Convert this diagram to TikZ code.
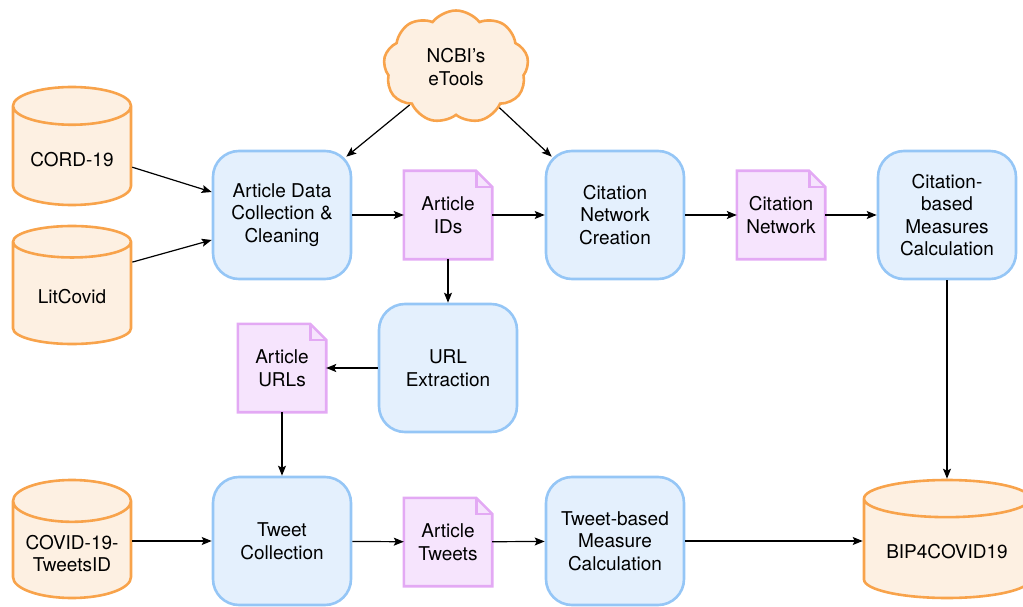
\documentclass[tikz,border=0pt]{standalone}
\usepackage{fontspec}
\setmainfont{TeX Gyre Heros}
\usetikzlibrary{shapes.geometric,shapes.symbols,arrows.meta,calc,backgrounds}
\definecolor{procfill}{HTML}{E4F0FD}
\definecolor{procline}{HTML}{95C6F6}
\definecolor{datafill}{HTML}{FDF0E2}
\definecolor{dataline}{HTML}{F8A34B}
\definecolor{docfill}{HTML}{F6E4FD}
\definecolor{docline}{HTML}{E3A9F4}
\tikzset{
  process/.style={rectangle, rounded corners=26pt, draw=procline, fill=procfill,
    line width=2.6pt, minimum width=138pt, minimum height=128pt, align=center},
  store/.style={cylinder, shape border rotate=90, aspect=0.42, anchor=shape center,
    draw=dataline, fill=datafill, line width=2.6pt, minimum width=118pt,
    minimum height=118pt, align=center},
  doc/.style={rectangle, minimum width=88pt, minimum height=88pt, align=center},
  docshape/.style={draw=docline, fill=docfill, line width=2.6pt},
  flow/.style={-{Stealth[length=10pt,width=8pt,inset=2pt]}, line width=1.2pt},
}
\begin{document}
\begin{tikzpicture}[x=1pt,y=-1pt,font=\fontsize{19}{22.5}\selectfont]
      \useasboundingbox (0,0) rectangle (1023,607);
      \draw
        (456,67) node[cloud, cloud puffs=9, cloud puff arc=105, cloud ignores aspect,
          draw=dataline, fill=datafill, line width=2.6pt, minimum width=145pt,
          minimum height=113pt, align=center] (ncbi){NCBI’s\\eTools}
        (72,146) node[store] (cord){CORD-19}
        (72,285) node[store] (litcovid){LitCovid}
        (72,539) node[store] (tweetsid){COVID-19-\\TweetsID}
        (947,539) node[store, minimum width=166pt, aspect=0.29] (bip){BIP4COVID19}
        (282,215) node[process] (adc){Article Data\\Collection \&\\Cleaning}
        (615,215) node[process] (cnc){Citation\\Network\\Creation}
        (947,215) node[process] (cbm){Citation-\\based\\Measures\\Calculation}
        (448,368) node[process] (urlx){URL\\Extraction}
        (282,541) node[process] (tc){Tweet\\Collection}
        (615,541) node[process] (tbm){Tweet-based\\Measure\\Calculation}
        (448,215) node[doc] (ids){Article\\IDs}
        (781,215) node[doc] (cnet){Citation\\Network}
        (282,368) node[doc] (urls){Article\\URLs}
        (448,542) node[doc] (tweets){Article\\Tweets};
      % document sheets with a folded corner, behind their text
      \begin{pgfonlayer}{background}
        \foreach \d in {ids,cnet,urls,tweets} {
          \draw[docshape] (\d.south west) |- ($(\d.north east)+(-16pt,0)$)
            -- ($(\d.north east)+(0,-16pt)$) |- cycle;
          \draw[docshape, fill=none] ($(\d.north east)+(-16pt,0)$) |- ($(\d.north east)+(0,-16pt)$);
        }
      \end{pgfonlayer}
      \begin{scope}[flow]
        \draw (ncbi) to ([xshift=-6pt,yshift=-7pt]adc.north east);
        \draw (ncbi) to ([xshift=7pt,yshift=-7pt]cnc.north west);
        \draw ([yshift=-8pt]cord.east) to ([yshift=23pt]adc.west);
        \draw ([yshift=34pt]litcovid.east) to ([yshift=-25pt]adc.west);
        \draw (adc) to (ids);
        \draw (ids) to (cnc);
        \draw (cnc) to (cnet);
        \draw (cnet) to (cbm);
        \draw (ids) to (urlx);
        \draw (urlx) to (urls);
        \draw (urls) to (tc);
        \draw (tweetsid.east |- tc.west) to (tc);
        \draw (tc) to (tweets);
        \draw (tweets) to (tbm);
        \draw (tbm) to (tbm -| bip.west);
        \draw (cbm) to (bip);
      \end{scope}
    \end{tikzpicture}
\end{document}
